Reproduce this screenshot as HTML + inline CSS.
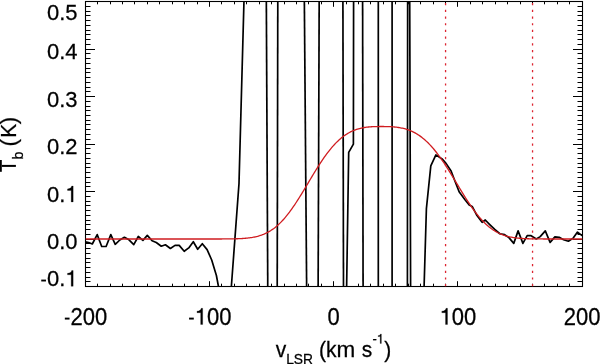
<!DOCTYPE html><html><head><meta charset="utf-8"><style>html,body{margin:0;padding:0;background:#fff;width:600px;height:364px;overflow:hidden}svg{display:block;will-change:transform}svg text{font-family:"Liberation Sans",sans-serif;fill:#000}</style></head><body>
<svg width="600" height="364" viewBox="0 0 600 364">
<defs><clipPath id="c"><rect x="85.50" y="1.50" width="497.00" height="285.00"/></clipPath></defs>
<path d="M85.50 281.50h5.0M582.50 281.50h-5.0M85.50 277.50h5.0M582.50 277.50h-5.0M85.50 272.50h5.0M582.50 272.50h-5.0M85.50 267.50h5.0M582.50 267.50h-5.0M85.50 262.50h5.0M582.50 262.50h-5.0M85.50 258.50h5.0M582.50 258.50h-5.0M85.50 253.50h5.0M582.50 253.50h-5.0M85.50 248.50h5.0M582.50 248.50h-5.0M85.50 243.50h5.0M582.50 243.50h-5.0M85.50 239.50h9.5M582.50 239.50h-9.5M85.50 234.50h5.0M582.50 234.50h-5.0M85.50 229.50h5.0M582.50 229.50h-5.0M85.50 224.50h5.0M582.50 224.50h-5.0M85.50 220.50h5.0M582.50 220.50h-5.0M85.50 215.50h5.0M582.50 215.50h-5.0M85.50 210.50h5.0M582.50 210.50h-5.0M85.50 205.50h5.0M582.50 205.50h-5.0M85.50 201.50h5.0M582.50 201.50h-5.0M85.50 196.50h5.0M582.50 196.50h-5.0M85.50 191.50h9.5M582.50 191.50h-9.5M85.50 186.50h5.0M582.50 186.50h-5.0M85.50 182.50h5.0M582.50 182.50h-5.0M85.50 177.50h5.0M582.50 177.50h-5.0M85.50 172.50h5.0M582.50 172.50h-5.0M85.50 167.50h5.0M582.50 167.50h-5.0M85.50 163.50h5.0M582.50 163.50h-5.0M85.50 158.50h5.0M582.50 158.50h-5.0M85.50 153.50h5.0M582.50 153.50h-5.0M85.50 148.50h5.0M582.50 148.50h-5.0M85.50 144.50h9.5M582.50 144.50h-9.5M85.50 139.50h5.0M582.50 139.50h-5.0M85.50 134.50h5.0M582.50 134.50h-5.0M85.50 129.50h5.0M582.50 129.50h-5.0M85.50 124.50h5.0M582.50 124.50h-5.0M85.50 120.50h5.0M582.50 120.50h-5.0M85.50 115.50h5.0M582.50 115.50h-5.0M85.50 110.50h5.0M582.50 110.50h-5.0M85.50 106.50h5.0M582.50 106.50h-5.0M85.50 101.50h5.0M582.50 101.50h-5.0M85.50 96.50h9.5M582.50 96.50h-9.5M85.50 91.50h5.0M582.50 91.50h-5.0M85.50 87.50h5.0M582.50 87.50h-5.0M85.50 82.50h5.0M582.50 82.50h-5.0M85.50 77.50h5.0M582.50 77.50h-5.0M85.50 72.50h5.0M582.50 72.50h-5.0M85.50 68.50h5.0M582.50 68.50h-5.0M85.50 63.50h5.0M582.50 63.50h-5.0M85.50 58.50h5.0M582.50 58.50h-5.0M85.50 53.50h5.0M582.50 53.50h-5.0M85.50 49.50h9.5M582.50 49.50h-9.5M85.50 44.50h5.0M582.50 44.50h-5.0M85.50 39.50h5.0M582.50 39.50h-5.0M85.50 34.50h5.0M582.50 34.50h-5.0M85.50 30.50h5.0M582.50 30.50h-5.0M85.50 25.50h5.0M582.50 25.50h-5.0M85.50 20.50h5.0M582.50 20.50h-5.0M85.50 15.50h5.0M582.50 15.50h-5.0M85.50 11.50h5.0M582.50 11.50h-5.0M85.50 6.50h5.0M582.50 6.50h-5.0M97.50 286.50v-2.8M97.50 1.50v2.8M110.50 286.50v-2.8M110.50 1.50v2.8M122.50 286.50v-2.8M122.50 1.50v2.8M134.50 286.50v-2.8M134.50 1.50v2.8M147.50 286.50v-2.8M147.50 1.50v2.8M159.50 286.50v-2.8M159.50 1.50v2.8M172.50 286.50v-2.8M172.50 1.50v2.8M184.50 286.50v-2.8M184.50 1.50v2.8M197.50 286.50v-2.8M197.50 1.50v2.8M209.50 286.50v-5.3M209.50 1.50v5.3M221.50 286.50v-2.8M221.50 1.50v2.8M234.50 286.50v-2.8M234.50 1.50v2.8M246.50 286.50v-2.8M246.50 1.50v2.8M259.50 286.50v-2.8M259.50 1.50v2.8M271.50 286.50v-2.8M271.50 1.50v2.8M284.50 286.50v-2.8M284.50 1.50v2.8M296.50 286.50v-2.8M296.50 1.50v2.8M308.50 286.50v-2.8M308.50 1.50v2.8M321.50 286.50v-2.8M321.50 1.50v2.8M333.50 286.50v-5.3M333.50 1.50v5.3M346.50 286.50v-2.8M346.50 1.50v2.8M358.50 286.50v-2.8M358.50 1.50v2.8M370.50 286.50v-2.8M370.50 1.50v2.8M383.50 286.50v-2.8M383.50 1.50v2.8M395.50 286.50v-2.8M395.50 1.50v2.8M408.50 286.50v-2.8M408.50 1.50v2.8M420.50 286.50v-2.8M420.50 1.50v2.8M433.50 286.50v-2.8M433.50 1.50v2.8M445.50 286.50v-2.8M445.50 1.50v2.8M457.50 286.50v-5.3M457.50 1.50v5.3M470.50 286.50v-2.8M470.50 1.50v2.8M482.50 286.50v-2.8M482.50 1.50v2.8M495.50 286.50v-2.8M495.50 1.50v2.8M507.50 286.50v-2.8M507.50 1.50v2.8M520.50 286.50v-2.8M520.50 1.50v2.8M532.50 286.50v-2.8M532.50 1.50v2.8M544.50 286.50v-2.8M544.50 1.50v2.8M557.50 286.50v-2.8M557.50 1.50v2.8M569.50 286.50v-2.8M569.50 1.50v2.8" stroke="#000" stroke-width="1" fill="none"/>
<rect x="85.50" y="1.50" width="497.00" height="285.00" stroke="#000" stroke-width="1.1" fill="none"/>
<polyline clip-path="url(#c)" points="80.00,241.50 86.50,242.10 88.60,242.50 92.30,244.00 97.20,234.60 101.70,246.50 106.10,246.50 110.80,234.60 115.25,244.30 119.80,240.00 124.40,237.30 129.00,239.80 133.75,244.60 138.30,236.50 142.90,240.40 147.30,235.40 152.10,240.80 156.25,242.50 161.25,246.25 165.40,244.80 170.40,248.50 175.00,245.40 179.20,245.40 184.20,251.25 188.75,247.90 193.30,241.70 197.70,249.30 202.30,243.75 207.10,249.60 211.70,260.00 216.40,275.50 221.00,300.00" stroke="#000" stroke-width="1.7" fill="none" stroke-linejoin="round"/>
<polyline clip-path="url(#c)" points="230.40,300.00 231.40,286.00 239.00,183.50 244.00,0.00 244.20,-5.00" stroke="#000" stroke-width="1.7" fill="none" stroke-linejoin="round"/>
<polyline clip-path="url(#c)" points="266.30,-5.00 267.80,295.00" stroke="#000" stroke-width="1.7" fill="none" stroke-linejoin="round"/>
<polyline clip-path="url(#c)" points="277.20,295.00 277.80,-5.00" stroke="#000" stroke-width="1.7" fill="none" stroke-linejoin="round"/>
<polyline clip-path="url(#c)" points="304.30,-5.00 306.70,295.00" stroke="#000" stroke-width="1.7" fill="none" stroke-linejoin="round"/>
<polyline clip-path="url(#c)" points="318.10,295.00 319.20,-5.00" stroke="#000" stroke-width="1.7" fill="none" stroke-linejoin="round"/>
<polyline clip-path="url(#c)" points="342.90,-5.00 343.50,295.00" stroke="#000" stroke-width="1.7" fill="none" stroke-linejoin="round"/>
<polyline clip-path="url(#c)" points="346.50,295.00 348.70,152.30 353.40,144.10 353.60,-5.00" stroke="#000" stroke-width="1.7" fill="none" stroke-linejoin="round"/>
<polyline clip-path="url(#c)" points="362.60,-5.00 363.10,295.00" stroke="#000" stroke-width="1.7" fill="none" stroke-linejoin="round"/>
<polyline clip-path="url(#c)" points="378.30,295.00 378.30,-5.00" stroke="#000" stroke-width="1.7" fill="none" stroke-linejoin="round"/>
<polyline clip-path="url(#c)" points="392.10,-5.00 392.10,295.00" stroke="#000" stroke-width="1.7" fill="none" stroke-linejoin="round"/>
<polyline clip-path="url(#c)" points="407.40,295.00 407.65,-5.00 409.69,-5.00 410.63,295.00" stroke="#000" stroke-width="1.7" fill="none" stroke-linejoin="round"/>
<polyline clip-path="url(#c)" points="423.80,295.00 424.10,286.00 426.40,208.70 430.80,165.90 435.90,154.90 442.50,159.30 446.20,163.60 451.10,171.00 454.90,181.00 459.30,192.10 464.80,199.50 469.20,205.00 472.20,206.40 476.60,214.90 482.10,222.30 485.30,220.00 489.50,224.30 494.50,229.20 499.80,233.75 504.60,234.70 508.90,237.60 513.75,243.40 518.10,230.90 522.90,243.40 527.20,235.70 531.10,235.70 536.30,239.00 540.20,236.60 545.30,230.90 550.10,242.40 554.90,236.90 559.20,237.30 563.60,239.80 568.40,241.20 573.20,238.10 577.50,232.10 581.80,235.40 586.00,236.00" stroke="#000" stroke-width="1.7" fill="none" stroke-linejoin="round"/>
<polyline clip-path="url(#c)" points="85.5,239.00 86.5,239.00 87.5,239.00 88.5,239.00 89.5,239.00 90.5,239.00 91.5,239.00 92.5,239.00 93.5,239.00 94.5,239.00 95.5,239.00 96.5,239.00 97.5,239.00 98.5,239.00 99.5,239.00 100.5,239.00 101.5,239.00 102.5,239.00 103.5,239.00 104.5,239.00 105.5,239.00 106.5,239.00 107.5,239.00 108.5,239.00 109.5,239.00 110.5,239.00 111.5,239.00 112.5,239.00 113.5,239.00 114.5,239.00 115.5,239.00 116.5,239.00 117.5,239.00 118.5,239.00 119.5,239.00 120.5,239.00 121.5,239.00 122.5,239.00 123.5,239.00 124.5,239.00 125.5,239.00 126.5,239.00 127.5,239.00 128.5,239.00 129.5,239.00 130.5,239.00 131.5,239.00 132.5,239.00 133.5,239.00 134.5,239.00 135.5,239.00 136.5,239.00 137.5,239.00 138.5,239.00 139.5,239.00 140.5,239.00 141.5,239.00 142.5,239.00 143.5,239.00 144.5,239.00 145.5,239.00 146.5,239.00 147.5,239.00 148.5,239.00 149.5,239.00 150.5,239.00 151.5,239.00 152.5,239.00 153.5,239.00 154.5,239.00 155.5,239.00 156.5,239.00 157.5,239.00 158.5,239.00 159.5,239.00 160.5,239.00 161.5,239.00 162.5,239.00 163.5,239.00 164.5,239.00 165.5,239.00 166.5,239.00 167.5,239.00 168.5,239.00 169.5,239.00 170.5,239.00 171.5,239.00 172.5,239.00 173.5,239.00 174.5,239.00 175.5,239.00 176.5,239.00 177.5,239.00 178.5,239.00 179.5,239.00 180.5,239.00 181.5,239.00 182.5,239.00 183.5,239.00 184.5,239.00 185.5,239.00 186.5,239.00 187.5,239.00 188.5,239.00 189.5,239.00 190.5,239.00 191.5,239.00 192.5,239.00 193.5,239.00 194.5,239.00 195.5,239.00 196.5,239.00 197.5,239.00 198.5,239.00 199.5,239.00 200.5,239.00 201.5,239.00 202.5,239.00 203.5,239.00 204.5,239.00 205.5,239.00 206.5,239.00 207.5,239.00 208.5,239.00 209.5,239.00 210.5,239.00 211.5,239.00 212.5,239.00 213.5,238.99 214.5,238.99 215.5,238.99 216.5,238.99 217.5,238.99 218.5,238.99 219.5,238.98 220.5,238.98 221.5,238.98 222.5,238.97 223.5,238.97 224.5,238.96 225.5,238.96 226.5,238.95 227.5,238.94 228.5,238.93 229.5,238.92 230.5,238.90 231.5,238.89 232.5,238.87 233.5,238.85 234.5,238.82 235.5,238.80 236.5,238.77 237.5,238.73 238.5,238.69 239.5,238.65 240.5,238.60 241.5,238.55 242.5,238.48 243.5,238.42 244.5,238.34 245.5,238.26 246.5,238.16 247.5,238.06 248.5,237.95 249.5,237.82 250.5,237.68 251.5,237.53 252.5,237.37 253.5,237.18 254.5,236.99 255.5,236.77 256.5,236.54 257.5,236.29 258.5,236.01 259.5,235.72 260.5,235.40 261.5,235.06 262.5,234.69 263.5,234.30 264.5,233.88 265.5,233.43 266.5,232.95 267.5,232.44 268.5,231.90 269.5,231.32 270.5,230.72 271.5,230.07 272.5,229.39 273.5,228.68 274.5,227.93 275.5,227.14 276.5,226.32 277.5,225.45 278.5,224.55 279.5,223.61 280.5,222.63 281.5,221.61 282.5,220.55 283.5,219.45 284.5,218.32 285.5,217.14 286.5,215.93 287.5,214.69 288.5,213.40 289.5,212.09 290.5,210.73 291.5,209.35 292.5,207.93 293.5,206.49 294.5,205.02 295.5,203.51 296.5,201.99 297.5,200.44 298.5,198.87 299.5,197.27 300.5,195.66 301.5,194.04 302.5,192.40 303.5,190.74 304.5,189.08 305.5,187.41 306.5,185.73 307.5,184.05 308.5,182.37 309.5,180.69 310.5,179.02 311.5,177.35 312.5,175.68 313.5,174.03 314.5,172.38 315.5,170.75 316.5,169.14 317.5,167.54 318.5,165.96 319.5,164.41 320.5,162.87 321.5,161.36 322.5,159.88 323.5,158.42 324.5,156.99 325.5,155.59 326.5,154.22 327.5,152.88 328.5,151.58 329.5,150.30 330.5,149.07 331.5,147.87 332.5,146.70 333.5,145.57 334.5,144.48 335.5,143.42 336.5,142.40 337.5,141.42 338.5,140.47 339.5,139.57 340.5,138.69 341.5,137.86 342.5,137.06 343.5,136.30 344.5,135.58 345.5,134.89 346.5,134.23 347.5,133.61 348.5,133.02 349.5,132.47 350.5,131.95 351.5,131.46 352.5,131.00 353.5,130.57 354.5,130.16 355.5,129.79 356.5,129.44 357.5,129.12 358.5,128.83 359.5,128.55 360.5,128.30 361.5,128.07 362.5,127.87 363.5,127.68 364.5,127.51 365.5,127.36 366.5,127.22 367.5,127.10 368.5,127.00 369.5,126.91 370.5,126.83 371.5,126.76 372.5,126.70 373.5,126.66 374.5,126.62 375.5,126.58 376.5,126.56 377.5,126.54 378.5,126.53 379.5,126.52 380.5,126.51 381.5,126.51 382.5,126.51 383.5,126.52 384.5,126.53 385.5,126.55 386.5,126.57 387.5,126.60 388.5,126.63 389.5,126.67 390.5,126.72 391.5,126.77 392.5,126.84 393.5,126.92 394.5,127.01 395.5,127.11 396.5,127.22 397.5,127.35 398.5,127.49 399.5,127.65 400.5,127.82 401.5,128.02 402.5,128.23 403.5,128.46 404.5,128.72 405.5,128.99 406.5,129.29 407.5,129.61 408.5,129.96 409.5,130.34 410.5,130.73 411.5,131.16 412.5,131.62 413.5,132.10 414.5,132.62 415.5,133.16 416.5,133.74 417.5,134.35 418.5,134.99 419.5,135.66 420.5,136.37 421.5,137.11 422.5,137.89 423.5,138.70 424.5,139.55 425.5,140.44 426.5,141.35 427.5,142.31 428.5,143.30 429.5,144.33 430.5,145.39 431.5,146.49 432.5,147.63 433.5,148.79 434.5,150.00 435.5,151.24 436.5,152.50 437.5,153.81 438.5,155.14 439.5,156.51 440.5,157.90 441.5,159.32 442.5,160.77 443.5,162.25 444.5,163.74 445.5,165.27 446.5,166.81 447.5,168.38 448.5,169.96 449.5,171.56 450.5,173.17 451.5,174.79 452.5,176.43 453.5,178.08 454.5,179.73 455.5,181.38 456.5,183.04 457.5,184.70 458.5,186.36 459.5,188.02 460.5,189.67 461.5,191.31 462.5,192.94 463.5,194.56 464.5,196.17 465.5,197.76 466.5,199.33 467.5,200.88 468.5,202.41 469.5,203.92 470.5,205.40 471.5,206.85 472.5,208.28 473.5,209.68 474.5,211.05 475.5,212.38 476.5,213.68 477.5,214.95 478.5,216.18 479.5,217.38 480.5,218.54 481.5,219.66 482.5,220.74 483.5,221.79 484.5,222.80 485.5,223.77 486.5,224.70 487.5,225.59 488.5,226.45 489.5,227.26 490.5,228.04 491.5,228.79 492.5,229.50 493.5,230.17 494.5,230.80 495.5,231.40 496.5,231.97 497.5,232.51 498.5,233.02 499.5,233.49 500.5,233.94 501.5,234.35 502.5,234.74 503.5,235.11 504.5,235.44 505.5,235.76 506.5,236.05 507.5,236.32 508.5,236.57 509.5,236.80 510.5,237.02 511.5,237.21 512.5,237.39 513.5,237.55 514.5,237.70 515.5,237.84 516.5,237.96 517.5,238.08 518.5,238.18 519.5,238.27 520.5,238.35 521.5,238.43 522.5,238.50 523.5,238.56 524.5,238.61 525.5,238.66 526.5,238.70 527.5,238.74 528.5,238.77 529.5,238.80 530.5,238.83 531.5,238.85 532.5,238.87 533.5,238.89 534.5,238.90 535.5,238.92 536.5,238.93 537.5,238.94 538.5,238.95 539.5,238.96 540.5,238.96 541.5,238.97 542.5,238.97 543.5,238.98 544.5,238.98 545.5,238.98 546.5,238.99 547.5,238.99 548.5,238.99 549.5,238.99 550.5,238.99 551.5,238.99 552.5,239.00 553.5,239.00 554.5,239.00 555.5,239.00 556.5,239.00 557.5,239.00 558.5,239.00 559.5,239.00 560.5,239.00 561.5,239.00 562.5,239.00 563.5,239.00 564.5,239.00 565.5,239.00 566.5,239.00 567.5,239.00 568.5,239.00 569.5,239.00 570.5,239.00 571.5,239.00 572.5,239.00 573.5,239.00 574.5,239.00 575.5,239.00 576.5,239.00 577.5,239.00 578.5,239.00 579.5,239.00 580.5,239.00 581.5,239.00 582.5,239.00" stroke="#d01c20" stroke-width="1.3" fill="none"/>
<line x1="445.57" y1="3.10" x2="445.57" y2="286.50" stroke="#dc2430" stroke-width="1.3" stroke-dasharray="2.2 4.49"/>
<line x1="532.55" y1="3.10" x2="532.55" y2="286.50" stroke="#dc2430" stroke-width="1.3" stroke-dasharray="2.2 4.49"/>
<g stroke="#000" stroke-width="0.25"><g transform="translate(46.92 19.70) scale(1 1.045)"><text x="0.00" y="0" font-size="22">0.5</text></g><g transform="translate(46.92 59.40) scale(1 1.045)"><text x="0.00" y="0" font-size="22">0.4</text></g><g transform="translate(46.92 106.90) scale(1 1.045)"><text x="0.00" y="0" font-size="22">0.3</text></g><g transform="translate(46.92 154.40) scale(1 1.045)"><text x="0.00" y="0" font-size="22">0.2</text></g><g transform="translate(46.92 201.90) scale(1 1.045)"><text x="0.00" y="0" font-size="22">0.</text><path vector-effect="non-scaling-stroke" transform="translate(18.35 0.00) scale(22.000 -22.000)" d="M0.269 0L0.359 0L0.359 0.688L0.292 0.688C0.276 0.612 0.215 0.570 0.101 0.565L0.101 0.501L0.269 0.501Z"/></g><g transform="translate(46.92 249.40) scale(1 1.045)"><text x="0.00" y="0" font-size="22">0.0</text></g><g transform="translate(39.59 286.30) scale(1 1.045)"><rect x="1.65" y="-6.42" width="4.71" height="1.80" stroke="none"/><text x="7.33" y="0" font-size="22">0.</text><path vector-effect="non-scaling-stroke" transform="translate(25.67 0.00) scale(22.000 -22.000)" d="M0.269 0L0.359 0L0.359 0.688L0.292 0.688C0.276 0.612 0.215 0.570 0.101 0.565L0.101 0.501L0.269 0.501Z"/></g><g transform="translate(63.18 324.50) scale(1 1.070)"><rect x="1.65" y="-6.42" width="4.71" height="1.80" stroke="none"/><text x="7.33" y="0" font-size="22">200</text></g><g transform="translate(187.43 324.50) scale(1 1.070)"><rect x="1.65" y="-6.42" width="4.71" height="1.80" stroke="none"/><path vector-effect="non-scaling-stroke" transform="translate(7.33 0.00) scale(22.000 -22.000)" d="M0.269 0L0.359 0L0.359 0.688L0.292 0.688C0.276 0.612 0.215 0.570 0.101 0.565L0.101 0.501L0.269 0.501Z"/><text x="19.56" y="0" font-size="22">00</text></g><g transform="translate(327.58 324.50) scale(1 1.070)"><text x="0.00" y="0" font-size="22">0</text></g><g transform="translate(439.60 324.50) scale(1 1.070)"><path vector-effect="non-scaling-stroke" transform="translate(0.00 0.00) scale(22.000 -22.000)" d="M0.269 0L0.359 0L0.359 0.688L0.292 0.688C0.276 0.612 0.215 0.570 0.101 0.565L0.101 0.501L0.269 0.501Z"/><text x="12.24" y="0" font-size="22">00</text></g><g transform="translate(563.85 324.50) scale(1 1.070)"><text x="0.00" y="0" font-size="22">200</text></g><g transform="translate(0 356.70) scale(1 1.06) translate(0 -356.70)"><text x="275.63" y="356.70" font-size="21">v</text><text x="286.17" y="363.40" font-size="13.8">LSR</text><text x="318.90" y="356.70" font-size="21">(k</text><g transform="translate(336.51 356.70) scale(1.07 1)"><text x="0" y="0" font-size="21">m</text></g><text x="361.72" y="356.70" font-size="21">s</text><text x="372.42" y="344.60" font-size="13">-</text><path vector-effect="non-scaling-stroke" transform="translate(376.69 344.20) scale(13.000 -13.000)" d="M0.269 0L0.359 0L0.359 0.688L0.292 0.688C0.276 0.612 0.215 0.570 0.101 0.565L0.101 0.501L0.269 0.501Z"/><text x="384.28" y="356.70" font-size="21">)</text></g></g>
<g fill="#000"><rect x="-0.2" y="160.0" width="2.0" height="11.8"/><rect x="1.8" y="164.9" width="14.1" height="2.0"/></g>
<g transform="translate(15.6,145.5) rotate(-90)" stroke="#000" stroke-width="0.25"><text x="-14.1" y="7" font-size="14">b</text><text x="-1.12" font-size="22.5">(</text><text transform="translate(7.77 0) scale(0.94 1.02)" font-size="22.5">K</text><text x="21.38" font-size="22.5">)</text></g>
</svg></body></html>
